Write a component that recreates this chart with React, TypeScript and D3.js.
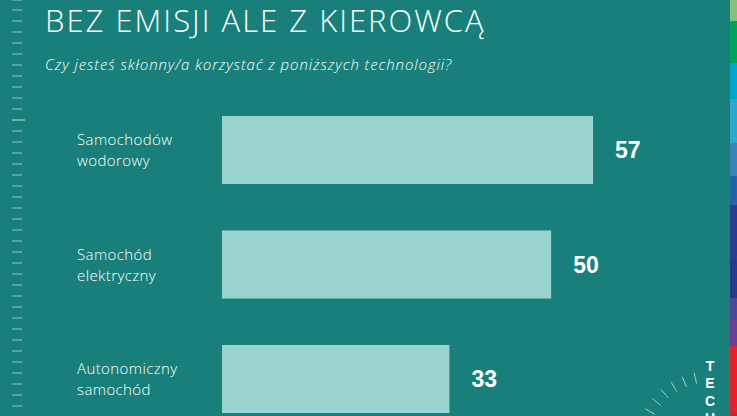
import React from "react";
import * as d3 from "d3";

const categories = ["Samochodów wodorowy", "Samochód elektryczny", "Autonomiczny samochód"];
const values = [57, 50, 33];
const title = "BEZ EMISJI ALE Z KIEROWCĄ";
const subtitle = "Czy jesteś skłonny/a korzystać z poniższych technologii?";
const stripColors = ["#84c27c", "#00a35c", "#00a7cf", "#2fa6cc", "#3984b9", "#2464a9", "#263f90", "#253a8a", "#4a4a9a", "#693f98", "#e0232b", "#b52a36"];
const stripStops = [0, 21, 63, 99, 143, 176, 205, 261, 298, 320, 346, 413, 416];
const techLetters = ["T", "E", "C", "H"];

const W = 737;
const H = 416;
const BG = "#187f7a";
const BAR = "#9bd3cf";

export default function App() {
  const x = d3.scaleLinear().domain([-5, 60]).range([222, 611]);
  const y = d3.scaleBand<string>().domain(categories).range([116, 413]).paddingInner(0.406).paddingOuter(0);

  const leftTicks = d3.range(0, 38).map((i) => 10 + i * 11);
  const gaugeCx = 711;
  const gaugeCy = 447;
  const gaugeAngles = d3.range(0, 8).map((i) => 12.8 + i * 9.4);

  return (
    <svg
      width={W}
      height={H}
      style={{ position: "absolute", left: 0, top: 0, display: "block" }}
      fontFamily="'Open Sans', 'Noto Sans', sans-serif"
    >
      <rect x={0} y={0} width={W} height={H} fill={BG} />
      {/* right colour strip */}
      {stripColors.map((c, i) => (
        <rect key={i} x={730} y={stripStops[i]} width={7} height={stripStops[i + 1] - stripStops[i]} fill={c} />
      ))}
      {/* left ruler ticks */}
      {leftTicks.map((ty, i) => (
        <line
          key={i}
          x1={12}
          x2={i === 10 ? 25 : 22}
          y1={ty}
          y2={ty}
          stroke="#ffffff"
          strokeOpacity={i === 10 ? 0.75 : 0.55}
          strokeWidth={1}
        />
      ))}
      <line x1={12} x2={22} y1={0} y2={0} stroke="#fff" strokeOpacity={0.55} />
      {/* title */}
      <text x={45} y={32} fill="#fff" fontSize={31} fontWeight={300} letterSpacing={2.0}>
        {title}
      </text>
      <text x={45} y={70} fill="#fff" fontSize={15} fontStyle="italic" fontWeight={300} letterSpacing={0.9}>
        {subtitle}
      </text>
      {/* bars */}
      {categories.map((c, i) => {
        const by = y(c)!;
        const bh = y.bandwidth();
        const words = c.split(" ");
        const cy = by + bh / 2;
        return (
          <g key={c}>
            <rect x={x(-5)} y={by} width={x(values[i]) - x(-5)} height={bh} fill={BAR} />
            <text fill="#fff" fontSize={15} fontWeight={300} letterSpacing={0.4}>
              <tspan x={77} y={cy - 5}>{words[0]}</tspan>
              <tspan x={77} y={cy + 16}>{words[1]}</tspan>
            </text>
            <text
              x={x(values[i]) + 22}
              y={cy + 8}
              fill="#fff"
              fontSize={23}
              fontWeight={700}
              fontFamily="'Liberation Sans', Arial, sans-serif"
            >
              {values[i]}
            </text>
          </g>
        );
      })}
      {/* gauge ticks */}
      {gaugeAngles.map((a, i) => {
        const r = (a * Math.PI) / 180;
        const r1 = 65;
        const r2 = 76;
        return (
          <line
            key={i}
            x1={gaugeCx - Math.sin(r) * r1}
            y1={gaugeCy - Math.cos(r) * r1}
            x2={gaugeCx - Math.sin(r) * r2}
            y2={gaugeCy - Math.cos(r) * r2}
            stroke="#fff"
            strokeOpacity={0.6}
            strokeWidth={1}
          />
        );
      })}
      {/* vertical TECH text */}
      {techLetters.map((l, i) => (
        <text
          key={i}
          x={710}
          y={370.5 + i * 17.6}
          textAnchor="middle"
          fill="#fff"
          fontSize={14}
          fontWeight={700}
          fontFamily="'Liberation Sans', Arial, sans-serif"
        >
          {l}
        </text>
      ))}
    </svg>
  );
}
